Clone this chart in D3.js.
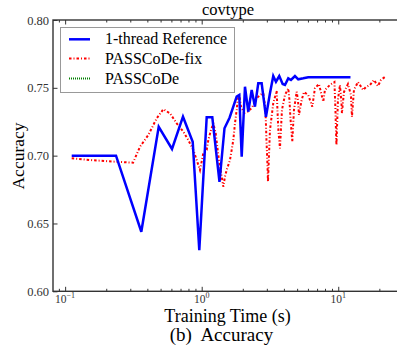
<!DOCTYPE html>
<html>
<head>
<meta charset="utf-8">
<script src="https://cdn.jsdelivr.net/npm/d3@7"></script>
<style>
  html, body { margin: 0; padding: 0; background: #fff; overflow: hidden; }
  svg { display: block; }
</style>
</head>
<body>
<svg id="chart" width="397" height="350"></svg>
<script>
// ---------------- data ----------------
const chartTitle = "covtype";
const xLabel = "Training Time (s)";
const yLabel = "Accuracy";
const caption = "(b)  Accuracy";
const seriesNames = ["1-thread Reference", "PASSCoDe-fix", "PASSCoDe"];
const seriesColors = ["#0000ff", "#ff0000", "#008000"];

const refTime = [0.1117, 0.2358, 0.3613, 0.4845, 0.6062, 0.7296, 0.8594, 0.9603, 1.088, 1.196,
  1.350, 1.469, 1.60, 1.804, 1.885, 1.963, 2.075, 2.193, 2.323, 2.455, 2.596, 2.749, 2.955,
  3.162, 3.343, 3.498, 3.699, 3.917, 4.072, 4.305, 4.506, 4.819, 5.095, 5.544, 6.032, 12.29];
const refAcc = [0.7000, 0.7000, 0.6439, 0.7213, 0.7049, 0.7287, 0.7103, 0.6304, 0.7283, 0.7283,
  0.6806, 0.7202, 0.7280, 0.7435, 0.7447, 0.6992, 0.7508, 0.7324, 0.7484, 0.7361, 0.7533, 0.7533, 0.7287,
  0.7460, 0.7587, 0.7545, 0.7587, 0.7528, 0.7521, 0.7570, 0.7558, 0.7587, 0.7563, 0.7570, 0.7578, 0.7578];

const fixTime = [0.1117, 0.1521, 0.2358, 0.3142, 0.3534, 0.4065, 0.4684, 0.5236, 0.5860, 0.6561,
  0.7333, 0.7979, 0.8680, 0.9191, 0.9718, 1.027, 1.088, 1.118, 1.170, 1.216,
  1.266, 1.323, 1.361, 1.401, 1.439, 1.481, 1.524, 1.611, 1.658, 1.704,
  1.753, 1.804, 1.834, 1.885, 1.940, 2.050, 2.172, 2.323, 2.527, 2.673,
  2.825, 2.932, 2.981, 3.032, 3.058, 3.162, 3.343, 3.540, 3.601, 3.650,
  3.743, 3.871, 4.072, 4.305, 4.393, 4.468, 4.606, 4.740, 4.960, 5.070,
  5.156, 5.396, 5.610, 6.032, 6.207, 6.452, 6.751, 7.222, 7.767, 7.991,
  8.694, 9.379, 9.539, 9.620, 9.701, 9.949, 10.29, 10.55, 10.64, 11.01,
  11.78, 12.39, 12.60, 13.03, 13.94, 15.24, 15.95, 17.07, 18.25, 19.53,
  20.54, 21.98];
const fixAcc = [0.6980, 0.6968, 0.6955, 0.6948, 0.7066, 0.7152, 0.7275, 0.7342, 0.7312, 0.7238,
  0.7177, 0.7115, 0.7042, 0.6968, 0.6894, 0.7017, 0.7042, 0.7115, 0.7189, 0.7238,
  0.7165, 0.7005, 0.6919, 0.6845, 0.6771, 0.6845, 0.6894, 0.6968, 0.7042, 0.7115,
  0.7238, 0.7337, 0.7410, 0.7447, 0.7361, 0.7314, 0.7324, 0.7351, 0.7423, 0.7447,
  0.7460, 0.7337, 0.7115, 0.6931, 0.6808, 0.7189, 0.7386, 0.7477, 0.7300, 0.7177,
  0.7054, 0.7337, 0.7447, 0.7496, 0.7410, 0.7275, 0.7103, 0.7337, 0.7471, 0.7410,
  0.7300, 0.7410, 0.7469, 0.7447, 0.7410, 0.7361, 0.7497, 0.7528, 0.7398, 0.7484,
  0.7521, 0.7543, 0.7337, 0.7189, 0.7079, 0.7410, 0.7521, 0.7395, 0.7314, 0.7469,
  0.7528, 0.7447, 0.7285, 0.7484, 0.7543, 0.7484, 0.7506, 0.7521, 0.7558, 0.7513,
  0.7558, 0.7580];

// PASSCoDe (no visible points inside the plotted range)
const passTime = [];
const passAcc = [];

const yTicks = [0.60, 0.65, 0.70, 0.75, 0.80];
const xMajorTicks = [0.1, 1, 10];
const xTickBase = ["10", "10", "10"];
const xTickExp = ["\u22121", "0", "1"];
const xDomain = [0.0815, 29.3];
const yDomain = [0.60, 0.80];

// ---------------- layout ----------------
const svg = d3.select("#chart");
const serif = "'Liberation Serif', 'Times New Roman', 'DejaVu Serif', serif";
const L = 53, R = 402, T = 20, B = 291.3;

svg.append("rect").attr("width", 397).attr("height", 350).attr("fill", "#fff");

const x = d3.scaleLog().domain(xDomain).range([L, R]);
const y = d3.scaleLinear().domain(yDomain).range([B, T]);

// minor x ticks
const xMinor = [];
for (let e = -2; e <= 1; e++) {
  for (let m = 2; m <= 9; m++) {
    const v = m * Math.pow(10, e);
    if (v > xDomain[0] && v < xDomain[1]) xMinor.push(v);
  }
}

const axisColor = "#333";
const gxB = svg.append("g").attr("transform", `translate(0,${B})`)
  .call(d3.axisBottom(x).tickValues(xMajorTicks).tickSizeInner(-4.5).tickSizeOuter(0).tickFormat(""));
const gxBm = svg.append("g").attr("transform", `translate(0,${B})`)
  .call(d3.axisBottom(x).tickValues(xMinor).tickSizeInner(-2.5).tickSizeOuter(0).tickFormat(""));
const gxT = svg.append("g").attr("transform", `translate(0,${T})`)
  .call(d3.axisTop(x).tickValues(xMajorTicks).tickSizeInner(-4.5).tickSizeOuter(0).tickFormat(""));
const gxTm = svg.append("g").attr("transform", `translate(0,${T})`)
  .call(d3.axisTop(x).tickValues(xMinor).tickSizeInner(-2.5).tickSizeOuter(0).tickFormat(""));
const gy = svg.append("g").attr("transform", `translate(${L},0)`)
  .call(d3.axisLeft(y).tickValues(yTicks).tickSizeInner(-4.5).tickSizeOuter(0).tickPadding(4)
    .tickFormat(d3.format(".2f")));

[gxB, gxBm, gxT, gxTm, gy].forEach(g => {
  g.select(".domain").remove();
  g.selectAll(".tick line").attr("stroke", axisColor).attr("stroke-width", 1);
});
gy.selectAll(".tick text")
  .attr("x", -4)
  .style("font-family", serif).style("font-size", "12.5px").attr("fill", "#333");

// x tick labels with superscripts
const xl = svg.append("g");
xMajorTicks.forEach((v, i) => {
  const t = xl.append("text")
    .attr("x", x(v)).attr("y", B + 12)
    .attr("text-anchor", "middle")
    .style("font-family", serif).attr("fill", "#333");
  t.append("tspan").style("font-size", "11.5px").text(xTickBase[i]);
  t.append("tspan").style("font-size", "8px").attr("dy", -5).text(xTickExp[i]);
});

// clip
svg.append("clipPath").attr("id", "clip").append("rect")
  .attr("x", L).attr("y", T).attr("width", R - L).attr("height", B - T);

const plot = svg.append("g").attr("clip-path", "url(#clip)");
const line = d3.line().x(d => x(d[0])).y(d => y(d[1]));

const passData = d3.zip(passTime, passAcc);
if (passData.length) {
  plot.append("path").datum(passData).attr("d", line)
    .attr("fill", "none").attr("stroke", seriesColors[2]).attr("stroke-width", 2)
    .attr("stroke-dasharray", "1,1.5");
}
plot.append("path").datum(d3.zip(fixTime, fixAcc)).attr("d", line)
  .attr("fill", "none").attr("stroke", seriesColors[1]).attr("stroke-width", 2)
  .attr("stroke-dasharray", "2.5,2,1,2");
plot.append("path").datum(d3.zip(refTime, refAcc)).attr("d", line)
  .attr("fill", "none").attr("stroke", seriesColors[0]).attr("stroke-width", 2.5)
  .attr("stroke-linejoin", "miter");

// spines
svg.append("rect").attr("x", L).attr("y", T).attr("width", R - L).attr("height", B - T)
  .attr("fill", "none").attr("stroke", axisColor).attr("stroke-width", 1.4);

// legend
const lg = svg.append("g");
lg.append("rect").attr("x", 60.5).attr("y", 27.5).attr("width", 174).attr("height", 65)
  .attr("fill", "#fff").attr("stroke", "#999").attr("stroke-width", 1);
const legRows = [39.3, 58.5, 78.5];
const legStyles = [
  { w: 2.5, dash: null },
  { w: 2, dash: "2.5,2,1,2" },
  { w: 2, dash: "1,1" }
];
seriesNames.forEach((name, i) => {
  const ln = lg.append("line").attr("x1", 69).attr("x2", 90)
    .attr("y1", legRows[i]).attr("y2", legRows[i])
    .attr("stroke", seriesColors[i]).attr("stroke-width", legStyles[i].w);
  if (legStyles[i].dash) ln.attr("stroke-dasharray", legStyles[i].dash);
  lg.append("text").attr("x", 105).attr("y", legRows[i] + 5)
    .style("font-family", serif).style("font-size", "16px").attr("fill", "#000")
    .text(name);
});

// title and labels
svg.append("text").attr("x", 228).attr("y", 15).attr("text-anchor", "middle")
  .style("font-family", serif).style("font-size", "16.5px").text(chartTitle);
svg.append("text").attr("x", 227.5).attr("y", 322).attr("text-anchor", "middle")
  .style("font-family", serif).style("font-size", "18px").text(xLabel);
svg.append("text").attr("transform", "translate(24,156) rotate(-90)").attr("text-anchor", "middle")
  .style("font-family", serif).style("font-size", "17.5px").text(yLabel);
svg.append("text").attr("x", 221.5).attr("y", 341).attr("text-anchor", "middle")
  .style("font-family", serif).style("font-size", "19px")
  .style("white-space", "pre").text(caption);
</script>
</body>
</html>
